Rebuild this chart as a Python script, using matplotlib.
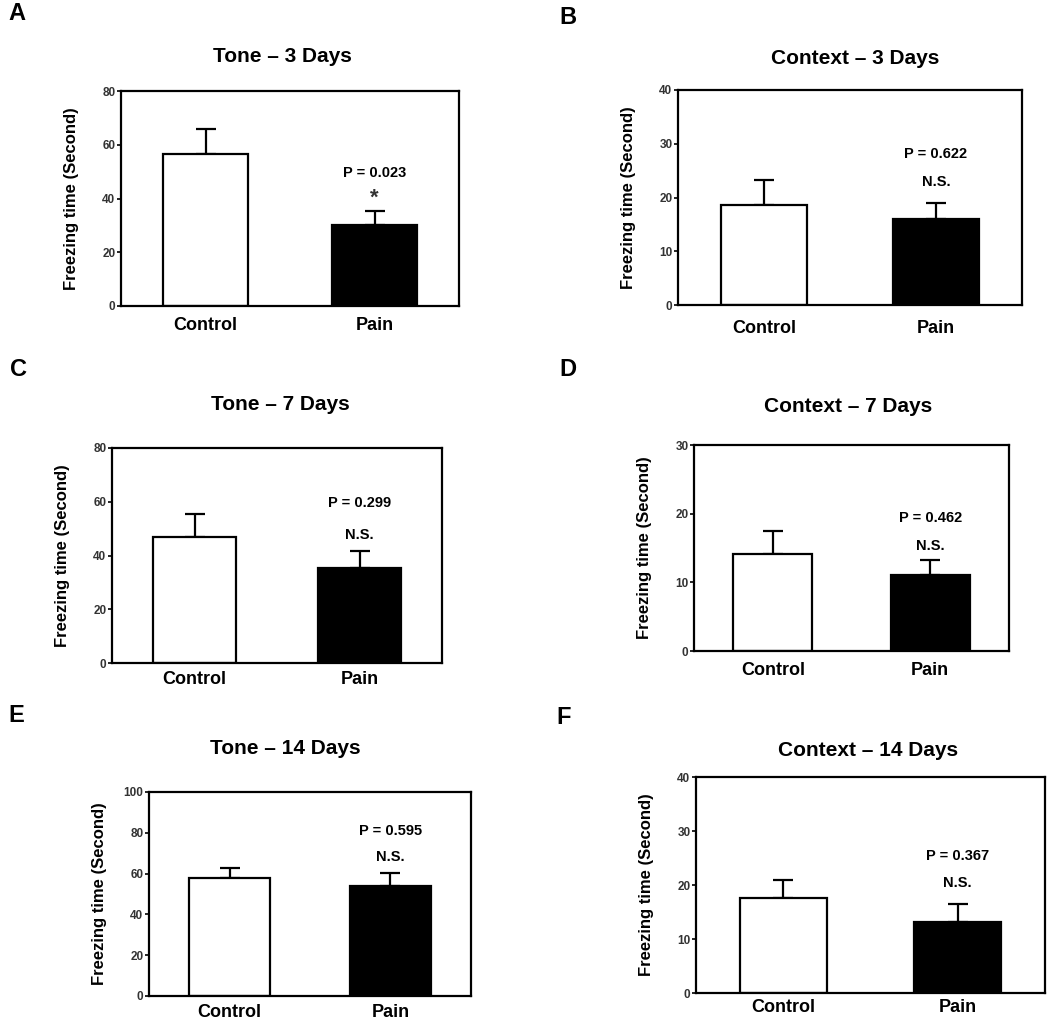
import numpy as np
import matplotlib
matplotlib.use("Agg")
import matplotlib.pyplot as plt

plt.rcParams['font.family'] = ['Liberation Sans', 'DejaVu Sans']
plt.rcParams['font.weight'] = 'bold'

# ---------------- data ----------------
groups = ["Control", "Pain"]

titles = ["Tone \u2013 3 Days", "Context \u2013 3 Days",
          "Tone \u2013 7 Days", "Context \u2013 7 Days",
          "Tone \u2013 14 Days", "Context \u2013 14 Days"]
letters = ["A", "B", "C", "D", "E", "F"]

means = [[56.6, 30.1],
         [18.6, 16.0],
         [46.9, 35.3],
         [14.1, 11.1],
         [57.8, 53.9],
         [17.6, 13.1]]
sems = [[9.3, 5.2],
        [4.7, 3.0],
        [8.5, 6.4],
        [3.4, 2.2],
        [4.9, 6.4],
        [3.3, 3.4]]

y_max = [80, 40, 80, 30, 100, 40]
y_step = [20, 10, 20, 10, 20, 10]

p_text = ["P = 0.023", "P = 0.622", "P = 0.299", "P = 0.462", "P = 0.595", "P = 0.367"]
sig_text = ["*", "N.S.", "N.S.", "N.S.", "N.S.", "N.S."]
p_y = [49.5, 28.1, 59.5, 19.4, 80.9, 25.4]
sig_y = [40.0, 22.9, 47.6, 15.3, 68.1, 20.4]

# ---------------- layout (pixels) ----------------
W, H = 1050, 1024
# left, right, top, bottom of each axes box
boxes = [(121, 459, 91, 306),
         (678, 1022, 90, 305),
         (112, 442, 448, 663),
         (694, 1009, 445, 651),
         (149, 471, 792, 996),
         (696, 1045, 777, 993)]
title_pos = [(282, 56), (855, 59), (280, 404), (848, 406), (285, 749), (868, 751)]
letter_pos = [(8, 14), (559, 18), (10, 369), (559, 370), (8, 715), (556, 717)]
xlab_pad = [8, 11, 6, 8, 6, 4]

fig = plt.figure(figsize=(W / 100, H / 100), dpi=100)

for i in range(6):
    l, r, t, b = boxes[i]
    ax = fig.add_axes([l / W, 1 - b / H, (r - l) / W, (b - t) / H])
    x = np.array([1, 3])
    ax.bar(x, means[i], width=1.0, color=["white", "black"],
           edgecolor="black", linewidth=1.6, zorder=2)
    ax.errorbar(x, means[i], yerr=[[0, 0], sems[i]], fmt="none",
                ecolor="black", elinewidth=1.6, capsize=7.5, capthick=1.6, zorder=1)
    ax.set_xlim(0, 4)
    ax.set_ylim(0, y_max[i])
    ax.set_yticks(np.arange(0, y_max[i] + 1, y_step[i]))
    ax.set_xticks(x)
    ax.set_xticklabels(groups, fontsize=13, fontweight="bold")
    ax.tick_params(axis="x", length=0, pad=xlab_pad[i])
    ax.tick_params(axis="y", direction="out", length=3, width=1.2, pad=1,
                   labelsize=8.5, labelcolor="#333333")
    for s in ax.spines.values():
        s.set_linewidth(1.6)
    ax.set_ylabel("Freezing time (Second)", fontsize=12, fontweight="bold")
    ax.yaxis.set_label_coords(-42 / (r - l), 0.5)

    ax.text(3, p_y[i], p_text[i], ha="center", va="center", fontsize=10.5, fontweight="bold")
    if sig_text[i] == "*":
        ax.text(3, sig_y[i], "*", ha="center", va="center", fontsize=16, fontweight="bold",
                color="#333333")
    else:
        ax.text(3, sig_y[i], sig_text[i], ha="center", va="center", fontsize=10.5, fontweight="bold")

    tx, ty = title_pos[i]
    fig.text(tx / W, 1 - ty / H, titles[i], ha="center", va="center",
             fontsize=15, fontweight="bold")
    lx, ly = letter_pos[i]
    fig.text(lx / W, 1 - ly / H, letters[i], ha="left", va="center",
             fontsize=17, fontweight="bold")

fig.savefig("out.png", dpi=100)
